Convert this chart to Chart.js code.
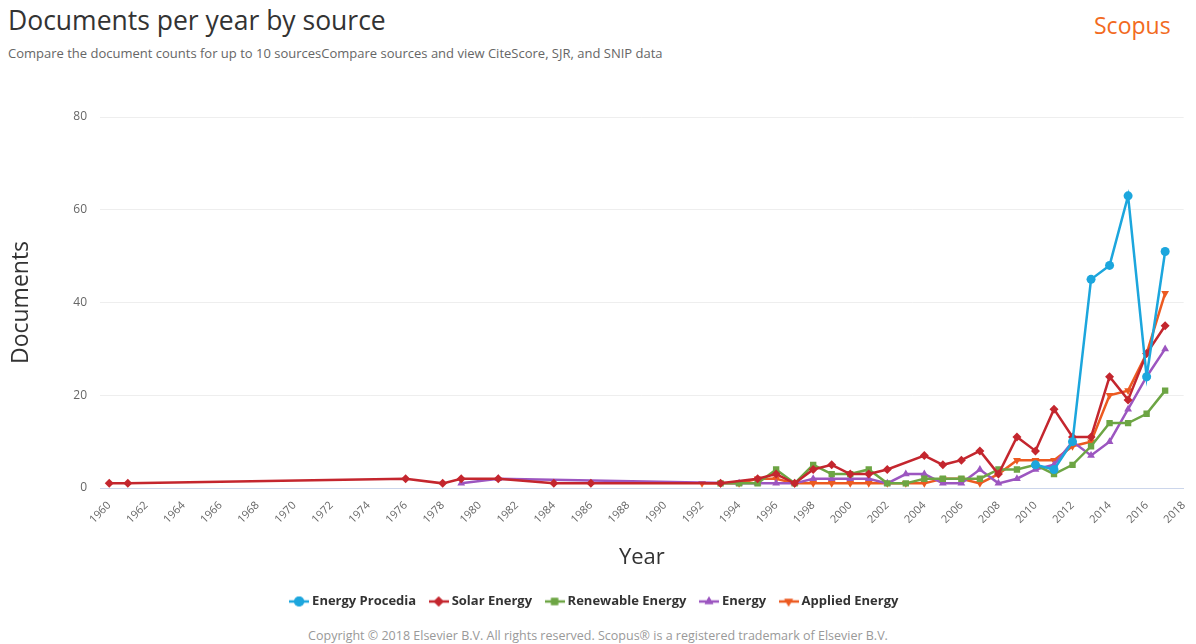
<!DOCTYPE html>
<html>
<head>
<meta charset="utf-8">
<script src="https://cdn.jsdelivr.net/npm/chart.js@4.4.1/dist/chart.umd.min.js"></script>
<style>
  html, body { margin: 0; padding: 0; background: #fff; }
  body { width: 1196px; height: 644px; position: relative; overflow: hidden; font-family: "Open Sans", sans-serif; }
  .title { position: absolute; left: 8px; top: 2px; font-size: 26.5px; color: #333; }
  .subtitle { position: absolute; left: 8px; top: 44px; font-size: 13px; color: #666; }
  .brand { position: absolute; left: 1094px; top: 9px; font-size: 23px; color: #f26a21; }
  .chart-box { position: absolute; left: 0; top: 90px; width: 1196px; height: 530px; }
  .copyright { position: absolute; left: 0; width: 1196px; top: 627px; text-align: center; font-size: 12.5px; color: #999; }
</style>
</head>
<body>
<div class="title">Documents per year by source</div>
<div class="subtitle">Compare the document counts for up to 10 sourcesCompare sources and view CiteScore, SJR, and SNIP data</div>
<div class="brand">Scopus</div>
<div class="chart-box"><canvas id="chart"></canvas></div>
<div class="copyright">Copyright © 2018 Elsevier B.V. All rights reserved. Scopus® is a registered trademark of Elsevier B.V.</div>
<script>
const yearTicks = [1960, 1962, 1964, 1966, 1968, 1970, 1972, 1974, 1976, 1978, 1980, 1982, 1984, 1986, 1988,
    1990, 1992, 1994, 1996, 1998, 2000, 2002, 2004, 2006, 2008, 2010, 2012, 2014, 2016, 2018];
const docTicks = [0, 20, 40, 60, 80];

const procediaYears = [2010, 2011, 2012, 2013, 2014, 2015, 2016, 2017];
const procediaDocs = [5, 4, 10, 45, 48, 63, 24, 51];

const solarYears = [1960, 1961, 1976, 1978, 1979, 1981, 1984, 1986, 1993, 1995, 1996, 1997, 1998, 1999, 2000, 2001,
    2002, 2004, 2005, 2006, 2007, 2008, 2009, 2010, 2011, 2012, 2013, 2014, 2015, 2016, 2017];
const solarDocs = [1, 1, 2, 1, 2, 2, 1, 1, 1, 2, 3, 1, 4, 5, 3, 3,
    4, 7, 5, 6, 8, 3, 11, 8, 17, 11, 11, 24, 19, 29, 35];

const renewableYears = [1993, 1994, 1995, 1996, 1997, 1998, 1999, 2000, 2001, 2002, 2003, 2004, 2005, 2006, 2007,
    2008, 2009, 2010, 2011, 2012, 2013, 2014, 2015, 2016, 2017];
const renewableDocs = [1, 1, 1, 4, 1, 5, 3, 3, 4, 1, 1, 2, 2, 2, 2,
    4, 4, 5, 3, 5, 9, 14, 14, 16, 21];

const energyYears = [1979, 1981, 1994, 1995, 1996, 1997, 1998, 1999, 2000, 2001, 2002, 2003, 2004, 2005, 2006,
    2007, 2008, 2009, 2010, 2011, 2012, 2013, 2014, 2015, 2016, 2017];
const energyDocs = [1, 2, 1, 1, 1, 1, 2, 2, 2, 2, 1, 3, 3, 1, 1,
    4, 1, 2, 4, 5, 10, 7, 10, 17, 24, 30];

const appliedYears = [1992, 1993, 1994, 1995, 1996, 1997, 1998, 1999, 2000, 2001, 2002, 2003, 2004, 2005, 2006,
    2007, 2008, 2009, 2010, 2011, 2012, 2013, 2014, 2015, 2016, 2017];
const appliedDocs = [1, 1, 1, 2, 2, 1, 1, 1, 1, 1, 1, 1, 1, 2, 2,
    1, 3, 6, 6, 6, 9, 10, 20, 21, 29, 42];

let toPoints = (years, docs) => years.map((y, i) => ({ x: y, y: docs[i] }));

// legend icon: short line with the marker on top, like the original
let legendIcon = (color, style, rotation) => {
    const c = document.createElement('canvas');
    c.width = 20;
    c.height = 12;
    const ctx = c.getContext('2d');
    ctx.strokeStyle = color;
    ctx.lineWidth = 2.5;
    ctx.beginPath();
    ctx.moveTo(0, 6);
    ctx.lineTo(20, 6);
    ctx.stroke();
    ctx.fillStyle = color;
    Chart.helpers.drawPoint(ctx, { pointStyle: style, radius: 5, rotation: rotation || 0, borderWidth: 0 }, 10, 6);
    ctx.fill();
    return c;
};

let makeSeries = (label, years, docs, color, style, rotation) => ({
    label: label,
    data: toPoints(years, docs),
    borderColor: color,
    backgroundColor: color,
    borderWidth: 2.5,
    pointStyle: style,
    pointRotation: rotation || 0,
    pointRadius: 4.5,
    pointBorderWidth: 0,
    tension: 0,
    legendIcon: legendIcon(color, style, rotation),
});

const datasets = [
    makeSeries('Energy Procedia', procediaYears, procediaDocs, '#1ca6dd', 'circle'),
    makeSeries('Solar Energy', solarYears, solarDocs, '#c4262e', 'rectRot'),
    makeSeries('Renewable Energy', renewableYears, renewableDocs, '#6da544', 'rect'),
    makeSeries('Energy', energyYears, energyDocs, '#9c56c0', 'triangle'),
    makeSeries('Applied Energy', appliedYears, appliedDocs, '#ec5a21', 'triangle', 180),
];

const chart = new Chart(document.querySelector('#chart'), {
    type: 'line',
    data: { datasets: datasets },
    options: {
        responsive: true,
        maintainAspectRatio: false,
        animation: false,
        layout: { padding: { top: 27, right: 5, bottom: 2, left: 0 } },
        plugins: {
            tooltip: { enabled: false },
            legend: {
                position: 'bottom',
                labels: {
                    usePointStyle: true,
                    boxWidth: 20,
                    boxHeight: 12,
                    padding: 16,
                    color: '#333',
                    font: { family: 'Open Sans', size: 13, weight: 'bold' },
                    generateLabels: (ch) => ch.data.datasets.map((ds, i) => ({
                        text: ds.label,
                        fillStyle: ds.borderColor,
                        strokeStyle: ds.borderColor,
                        fontColor: '#333',
                        pointStyle: ds.legendIcon,
                        lineWidth: 0,
                        hidden: false,
                        datasetIndex: i,
                    })),
                },
            },
        },
        scales: {
            x: {
                type: 'linear',
                min: 1959.5,
                max: 2018,
                afterBuildTicks: (scale) => { scale.ticks = yearTicks.map(v => ({ value: v })); },
                afterFit: (scale) => { scale.height = 91; },
                grid: { display: false },
                border: { color: '#ccd6eb', width: 1 },
                ticks: {
                    minRotation: 45,
                    maxRotation: 45,
                    autoSkip: false,
                    color: '#666',
                    font: { family: 'Open Sans', size: 11 },
                    callback: (v) => String(v),
                },
                title: {
                    display: true,
                    text: 'Year',
                    color: '#333',
                    font: { family: 'Open Sans', size: 22 },
                    padding: { top: 0, bottom: 8 },
                },
            },
            y: {
                min: 0,
                max: 80,
                afterBuildTicks: (scale) => { scale.ticks = docTicks.map(v => ({ value: v })); },
                afterFit: (scale) => { scale.width = 100; },
                grid: {
                    color: (c) => c.tick && c.tick.value === 0 ? '#ccd6eb' : '#eeeeee',
                    lineWidth: 1,
                    drawTicks: false,
                },
                border: { display: false },
                ticks: {
                    color: '#666',
                    padding: 13,
                    font: { family: 'Open Sans', size: 12 },
                },
                title: {
                    display: true,
                    text: 'Documents',
                    color: '#333',
                    font: { family: 'Open Sans', size: 23 },
                    padding: { top: 8, bottom: 0 },
                },
            },
        },
    },
});
</script>
</body>
</html>
